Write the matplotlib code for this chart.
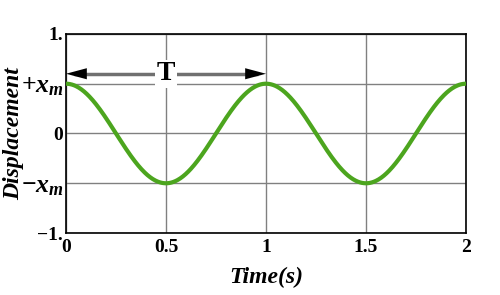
import numpy as np
import matplotlib
matplotlib.use("Agg")
import matplotlib.pyplot as plt

plt.rcParams['font.family'] = 'Liberation Serif'
plt.rcParams['font.weight'] = 'bold'
plt.rcParams['mathtext.fontset'] = 'custom'
plt.rcParams['mathtext.rm'] = 'Liberation Serif:bold'
plt.rcParams['mathtext.it'] = 'Liberation Serif:bold:italic'
plt.rcParams['mathtext.bf'] = 'Liberation Serif:bold'

amplitude = 0.5
period = 1.0
t_max = 2.0
x_ticks = [0, 0.5, 1, 1.5, 2]
x_ticklabels = ["0", "0.5", "1", "1.5", "2"]
y_ticks = [-1, -0.5, 0, 0.5, 1]
y_ticklabels = ["\u22121.", r"$\mathrm{-}x_m$", "0", r"$\mathrm{+}x_m$", "1."]
arrow_y = 0.6

t = np.linspace(0, t_max, 600)
y = amplitude * np.cos(2 * np.pi * t / period)

fig = plt.figure(figsize=(5, 2.95), dpi=100)
ax = fig.add_axes([0.132, 0.21, 0.8, 0.675])
ax.plot(t, y, color='#4ca51e', lw=3, zorder=3)
ax.set_xlim(0, t_max)
ax.set_ylim(-1, 1)
ax.set_xticks(x_ticks)
ax.set_xticklabels(x_ticklabels, fontsize=14, fontweight='bold')
ax.set_yticks(y_ticks)
ax.set_yticklabels(y_ticklabels, fontsize=14, fontweight='bold')
for lbl in ax.get_yticklabels():
    if 'x_m' in lbl.get_text():
        lbl.set_fontsize(18.5)
ax.tick_params(axis='y', length=0, pad=2)
ax.tick_params(axis='x', length=0, pad=4)
ax.grid(True, color='#808080', lw=1)
for s in ax.spines.values():
    s.set_linewidth(1.2)

# gray shaft
ax.plot([0.04, period - 0.04], [arrow_y, arrow_y], color='#707070', lw=2.5,
        solid_capstyle='butt', zorder=4)
# black heads
ax.annotate('', xy=(period, arrow_y), xytext=(0, arrow_y),
            arrowprops=dict(arrowstyle='<|-|>,head_length=1.5,head_width=0.4',
                            mutation_scale=10, lw=0, fc='black', ec='none',
                            shrinkA=0, shrinkB=0), zorder=4)
ax.text(period / 2, arrow_y, 'T', fontsize=20, fontweight='bold', ha='center', va='center',
        bbox=dict(facecolor='white', edgecolor='none', pad=1), zorder=5)

ax.set_xlabel('Time(s)', fontsize=17, fontstyle='italic', fontweight='bold', labelpad=8)
ax.set_ylabel('Displacement', fontsize=17, fontstyle='italic', fontweight='bold')
ax.yaxis.set_label_coords(-0.105, 0.5)

fig.savefig('out.png', dpi=100)
